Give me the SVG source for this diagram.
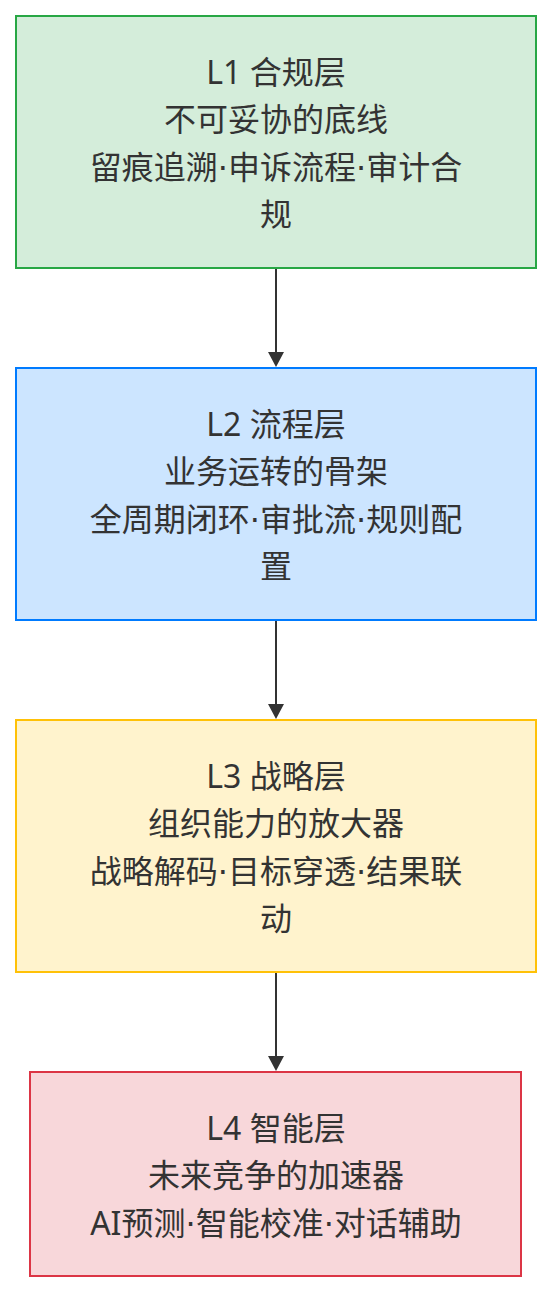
<svg xmlns="http://www.w3.org/2000/svg" width="552" height="1292" viewBox="0 0 552 1292">
<style>
.node rect{stroke-width:2}
.lbl{font-family:"Noto Sans","Noto Sans CJK SC",sans-serif;font-size:32px;fill:#333;text-anchor:middle}
.dot{font-family:"DejaVu Sans",sans-serif}
.edge line{stroke:#333;stroke-width:2}
</style>
<rect width="552" height="1292" fill="#fff"/>
<g id="connectors" class="edge">
<line x1="276" y1="268" x2="276" y2="353"/>
<path d="M268,352 L284,352 L276,367 Z" fill="#333"/>
<line x1="276" y1="620" x2="276" y2="705"/>
<path d="M268,704 L284,704 L276,719 Z" fill="#333"/>
<line x1="276" y1="972" x2="276" y2="1057"/>
<path d="M268,1056 L284,1056 L276,1071 Z" fill="#333"/>
</g>
<g id="L1" class="node">
<rect x="16" y="16" width="520" height="252" fill="#d4edda" stroke="#28a745"/>
<text class="lbl" x="276" y="84">L1 合规层</text>
<text class="lbl" x="276" y="131">不可妥协的底线</text>
<text class="lbl" x="276" y="179">留痕追溯<tspan class="dot">·</tspan>申诉流程<tspan class="dot">·</tspan>审计合</text>
<text class="lbl" x="276" y="226">规</text>
</g>
<g id="L2" class="node">
<rect x="16" y="368" width="520" height="252" fill="#cce5ff" stroke="#007bff"/>
<text class="lbl" x="276" y="436">L2 流程层</text>
<text class="lbl" x="276" y="483">业务运转的骨架</text>
<text class="lbl" x="276" y="531">全周期闭环<tspan class="dot">·</tspan>审批流<tspan class="dot">·</tspan>规则配</text>
<text class="lbl" x="276" y="578">置</text>
</g>
<g id="L3" class="node">
<rect x="16" y="720" width="520" height="252" fill="#fff3cd" stroke="#ffc107"/>
<text class="lbl" x="276" y="788">L3 战略层</text>
<text class="lbl" x="276" y="835">组织能力的放大器</text>
<text class="lbl" x="276" y="883">战略解码<tspan class="dot">·</tspan>目标穿透<tspan class="dot">·</tspan>结果联</text>
<text class="lbl" x="276" y="930">动</text>
</g>
<g id="L4" class="node">
<rect x="30" y="1072" width="491" height="204" fill="#f8d7da" stroke="#dc3545"/>
<text class="lbl" x="276" y="1139.5">L4 智能层</text>
<text class="lbl" x="276" y="1187">未来竞争的加速器</text>
<text class="lbl" x="276" y="1234.5">AI预测<tspan class="dot">·</tspan>智能校准<tspan class="dot">·</tspan>对话辅助</text>
</g>
</svg>
